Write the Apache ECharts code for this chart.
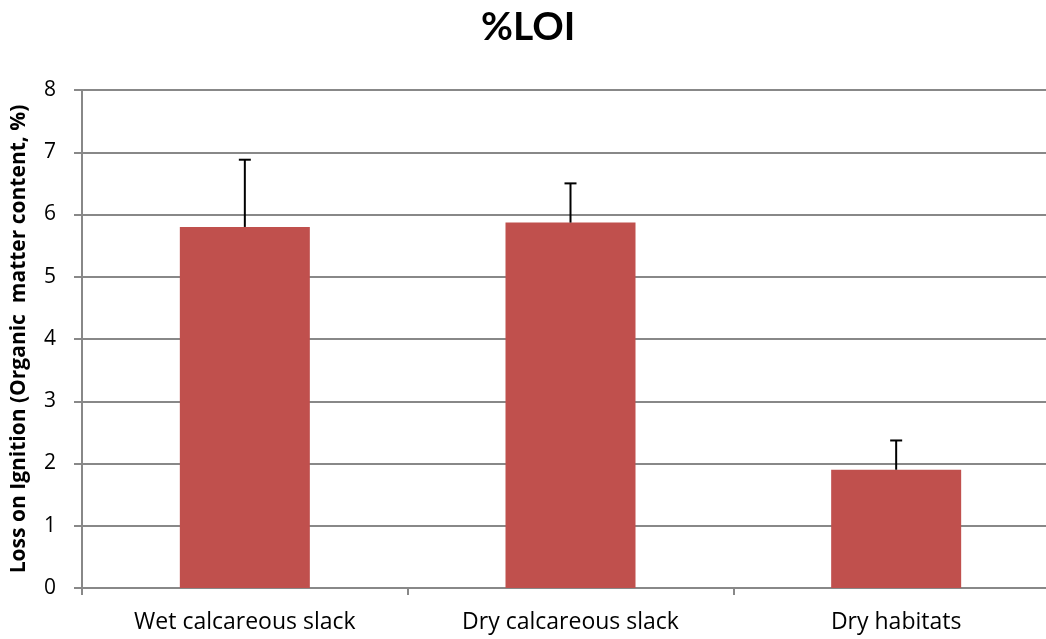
<!DOCTYPE html>
<html>
<head>
<meta charset="utf-8">
<script src="https://cdn.jsdelivr.net/npm/echarts@6/dist/echarts.min.js"></script>
<style>
html,body{margin:0;padding:0;background:#fff;}
#chart{width:1046px;height:639px;}
</style>
</head>
<body>
<div id="chart"></div>
<script>
var categories = ['Wet calcareous slack', 'Dry calcareous slack', 'Dry habitats'];
var meanValues = [5.80, 5.87, 1.90];
var errorUpper = [6.88, 6.50, 2.37];
var yTicks = [0, 1, 2, 3, 4, 5, 6, 7, 8];

var FONT = '"Open Sans", Lato, sans-serif';
var chart = echarts.init(document.getElementById('chart'), null, {renderer: 'canvas'});

var errData = categories.map(function (c, i) { return [i, meanValues[i], errorUpper[i]]; });

chart.setOption({
  animation: false,
  backgroundColor: '#ffffff',
  title: {
    text: '%LOI',
    left: 476,
    top: 3,
    textStyle: {fontFamily: 'Lato, sans-serif', fontSize: 39, fontWeight: 'bold', color: '#000'}
  },
  grid: {left: 82, width: 977, top: 90, bottom: 51, containLabel: false, outerBoundsMode: 'none'},
  xAxis: {
    type: 'category',
    data: categories,
    boundaryGap: true,
    axisLine: {show: true, lineStyle: {color: '#888888', width: 2}},
    axisTick: {show: true, length: 7, alignWithLabel: false, lineStyle: {color: '#888888', width: 2}},
    axisLabel: {fontFamily: FONT, fontSize: 23, color: '#000', margin: 23}
  },
  yAxis: {
    type: 'value',
    min: yTicks[0],
    max: yTicks[yTicks.length - 1],
    interval: 1,
    name: 'Loss on Ignition (Organic  matter content, %)',
    nameLocation: 'middle',
    nameGap: 52,
    nameTextStyle: {fontFamily: FONT, fontSize: 21, fontWeight: 'bold', color: '#000'},
    axisLine: {show: true, lineStyle: {color: '#888888', width: 2}},
    axisTick: {show: true, length: 8, lineStyle: {color: '#888888', width: 2}},
    axisLabel: {fontFamily: FONT, fontSize: 21, color: '#000', margin: 26},
    splitLine: {show: true, lineStyle: {color: '#888888', width: 2}}
  },
  series: [
    {
      type: 'bar',
      data: meanValues,
      barWidth: 130,
      itemStyle: {color: '#C0504D'}
    },
    {
      type: 'custom',
      data: errData,
      z: 10,
      renderItem: function (params, api) {
        var i = api.value(0);
        var p0 = api.coord([i, api.value(1)]);
        var p1 = api.coord([i, api.value(2)]);
        var half = 6;
        var style = {stroke: '#000', lineWidth: 2};
        return {
          type: 'group',
          children: [
            {type: 'line', shape: {x1: p0[0], y1: p0[1], x2: p1[0], y2: p1[1]}, style: style},
            {type: 'line', shape: {x1: p1[0] - half, y1: p1[1], x2: p1[0] + half, y2: p1[1]}, style: style}
          ]
        };
      }
    }
  ]
});
</script>
</body>
</html>
